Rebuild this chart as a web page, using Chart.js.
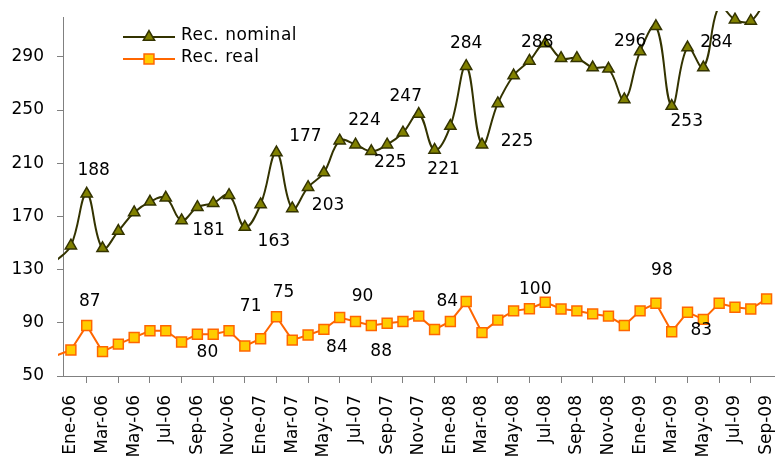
<!DOCTYPE html>
<html>
<head>
<meta charset="utf-8">
<script src="https://cdn.jsdelivr.net/npm/chart.js@4.4.1/dist/chart.umd.min.js"></script>
<style>
  html, body { margin: 0; padding: 0; background: #fff; }
  #wrap { width: 783px; height: 461px; }
</style>
</head>
<body>
<div id="wrap"><canvas id="c" width="783" height="461"></canvas></div>
<script>
// Recaudación nominal vs real, mensual Dic-05 .. Sep-09 (Dic-05 only feeds the lead-in segment)
const MONTHS = [
  "Dic-05",
  "Ene-06", "Feb-06", "Mar-06", "Abr-06", "May-06", "Jun-06", "Jul-06", "Ago-06", "Sep-06", "Oct-06", "Nov-06", "Dic-06",
  "Ene-07", "Feb-07", "Mar-07", "Abr-07", "May-07", "Jun-07", "Jul-07", "Ago-07", "Sep-07", "Oct-07", "Nov-07", "Dic-07",
  "Ene-08", "Feb-08", "Mar-08", "Abr-08", "May-08", "Jun-08", "Jul-08", "Ago-08", "Sep-08", "Oct-08", "Nov-08", "Dic-08",
  "Ene-09", "Feb-09", "Mar-09", "Abr-09", "May-09", "Jun-09", "Jul-09", "Ago-09", "Sep-09",
];
const NOMINAL = [
  136,
  148, 187, 146, 159, 173, 181, 184, 167, 177, 180, 186, 162,
  179, 218, 176, 192, 203, 227, 224, 219, 224, 233, 247, 220,
  238, 283, 224, 255, 276, 287, 300, 289, 289, 282, 281, 258,
  294, 313, 253, 297, 282, 328, 318, 317, 334,
];
const REAL = [
  65,
  69.6, 88, 68.3, 74, 79, 84, 84, 75.6, 81.4, 81.4, 84, 72.6,
  78, 94.6, 77, 80.8, 85.1, 94, 91, 88, 89.7, 91, 95, 85,
  91, 106, 82.6, 92, 99, 100.6, 105.5, 100.4, 99, 96.7, 95, 88,
  99, 104.7, 83.3, 98, 92.6, 104.7, 101.7, 100.4, 108,
];
const Y_TICKS = [50, 90, 130, 170, 210, 250, 290];

// data labels as printed on the original: [month, text]
const NOMINAL_NOTES = [
  ["Feb-06", "188"], ["Ago-06", "181"], ["Dic-06", "163"], ["Feb-07", "177"], ["Abr-07", "203"],
  ["Jul-07", "224"], ["Ago-07", "225"], ["Nov-07", "247"], ["Dic-07", "221"], ["Feb-08", "284"],
  ["Mar-08", "225"], ["Jul-08", "288"], ["Ene-09", "296"], ["Mar-09", "253"], ["May-09", "284"],
];
const REAL_NOTES = [
  ["Feb-06", "87"], ["Sep-06", "80"], ["Ene-07", "71"], ["Feb-07", "75"], ["May-07", "84"], ["Jul-07", "90"],
  ["Sep-07", "88"], ["Ene-08", "84"], ["Jul-08", "100"], ["Feb-09", "98"], ["May-09", "83"],
];
// where each label sits relative to its point (px)
const NOMINAL_OFFSETS = [[7, -23], [27, 10], [29, 14], [29, -16], [20, 18], [9, -24], [19, 11], [-13, -17], [9, 20], [0, -23], [35, -3], [-8, -1], [-10, -10], [15, 15], [13, -25]];
const REAL_OFFSETS = [[3, -24], [10, 18], [-10, -32], [7, -24], [13, 18], [7, -25], [-6, 28], [-3, -20], [-10, -13], [6, -33], [-2, 11]];

const OLIVE_LINE = "#333300", OLIVE_FILL = "#808000";
const ORANGE = "#FF6600", GOLD = "#FFCC00";
const AXIS = "#808080";

Chart.defaults.font.family = "'DejaVu Sans', Verdana, sans-serif";
Chart.defaults.font.size = 17;
Chart.defaults.color = "#000";

const notes = {
  id: "notes",
  afterDatasetsDraw(chart) {
    const ctx = chart.ctx;
    ctx.save();
    ctx.font = "17px 'DejaVu Sans', Verdana, sans-serif";
    ctx.fillStyle = "#000";
    ctx.textAlign = "center";
    ctx.textBaseline = "middle";
    const put = (ds, list, offs) => list.forEach(([m, t], i) => {
      const p = chart.getDatasetMeta(ds).data[MONTHS.indexOf(m)];
      ctx.fillText(t, p.x + offs[i][0], p.y + offs[i][1]);
    });
    put(0, NOMINAL_NOTES, NOMINAL_OFFSETS);
    put(1, REAL_NOTES, REAL_OFFSETS);
    ctx.restore();
  },
  afterDraw(chart) {
    // legend, top-left inside the plot
    const ctx = chart.ctx;
    const items = [
      { label: "Rec. nominal", line: OLIVE_LINE, fill: OLIVE_FILL, style: "triangle", r: 6.5, y: 37 },
      { label: "Rec. real", line: ORANGE, fill: GOLD, style: "rect", r: 7, y: 59 },
    ];
    ctx.save();
    ctx.font = "17px 'DejaVu Sans', Verdana, sans-serif";
    ctx.textBaseline = "middle";
    if ("letterSpacing" in ctx) ctx.letterSpacing = "0.5px";
    for (const it of items) {
      ctx.strokeStyle = it.line;
      ctx.lineWidth = 2;
      ctx.beginPath(); ctx.moveTo(123, it.y); ctx.lineTo(175, it.y); ctx.stroke();
      ctx.fillStyle = it.fill;
      ctx.lineWidth = 1.5;
      Chart.helpers.drawPoint(ctx, { pointStyle: it.style, radius: it.r, borderWidth: 1.5, rotation: 0 }, 149, it.y);
      ctx.fillStyle = "#000";
      ctx.fillText(it.label, 181, it.y - 1);
    }
    ctx.restore();
  },
};

const hideLead = (c) => (c.dataIndex === 0 ? 0 : undefined);

new Chart(document.getElementById("c"), {
  type: "line",
  data: {
    labels: MONTHS,
    datasets: [
      {
        label: "Rec. nominal", data: NOMINAL,
        borderColor: OLIVE_LINE, borderWidth: 2, tension: 0.4, cubicInterpolationMode: "default",
        pointStyle: "triangle", pointRadius: (c) => hideLead(c) ?? 6.5,
        pointBackgroundColor: OLIVE_FILL, pointBorderColor: OLIVE_LINE, pointBorderWidth: 1.5,
        clip: { left: 5, top: 6, right: 0, bottom: 0 },
      },
      {
        label: "Rec. real", data: REAL,
        borderColor: ORANGE, borderWidth: 2, tension: 0,
        pointStyle: "rect", pointRadius: (c) => hideLead(c) ?? 7,
        pointBackgroundColor: GOLD, pointBorderColor: ORANGE, pointBorderWidth: 1.5,
        clip: { left: 5, top: 6, right: 0, bottom: 0 },
      },
    ],
  },
  options: {
    responsive: false,
    animation: false,
    layout: { padding: { top: 17, left: 0, right: 0, bottom: 0 } },
    plugins: { legend: { display: false }, tooltip: { enabled: false } },
    scales: {
      x: {
        min: "Ene-06",
        offset: true,
        grid: { offset: true, drawOnChartArea: false, tickLength: 7, color: AXIS },
        border: { color: AXIS, width: 1 },
        ticks: {
          autoSkip: false, minRotation: 90, maxRotation: 90, padding: 12,
          callback(v) { return (v - 1) % 2 === 0 ? this.getLabelForValue(v) : null; },
        },
        afterFit: (s) => { s.height = 85; s.paddingLeft = 0; s.paddingRight = 0; },
      },
      y: {
        min: 50, max: 320,
        grid: { drawOnChartArea: false, tickLength: 6, color: AXIS },
        border: { color: AXIS, width: 1 },
        ticks: { padding: 13 },
        afterBuildTicks: (s) => { s.ticks = Y_TICKS.map((v) => ({ value: v })); },
        afterFit: (s) => { s.width = 63; s.paddingTop = 0; s.paddingBottom = 0; },
      },
    },
  },
  plugins: [notes],
});
</script>
</body>
</html>
